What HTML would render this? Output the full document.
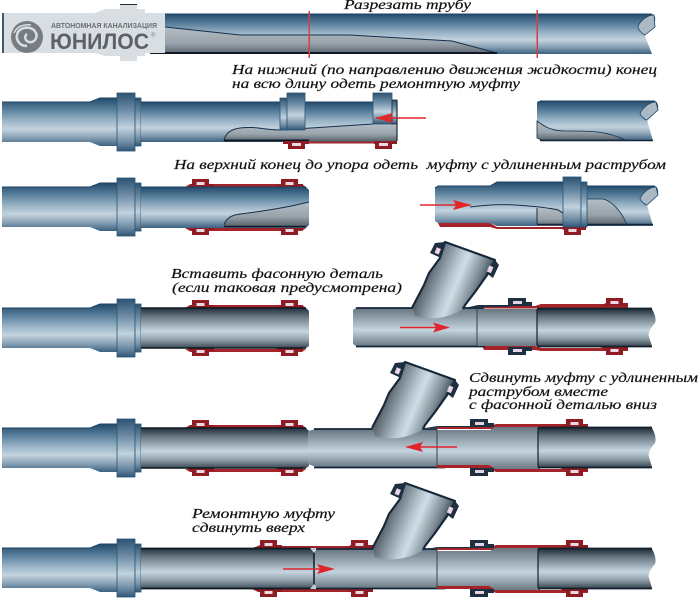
<!DOCTYPE html>
<html><head><meta charset="utf-8"><style>
html,body{margin:0;padding:0;background:#fff;width:700px;height:600px;overflow:hidden}
svg{display:block;filter:blur(.35px)}
text.t{font-family:"Liberation Serif","Noto Serif CJK SC",serif;font-style:italic;font-size:14px;fill:#111;stroke:#111;stroke-width:.2}
</style></head><body>
<svg width="700" height="600" viewBox="0 0 700 600" xmlns="http://www.w3.org/2000/svg">
<defs>
<linearGradient id="b" x1="0" y1="0" x2="0" y2="1">
<stop offset="0" stop-color="#234a69"/><stop offset=".2" stop-color="#4f7693"/><stop offset=".45" stop-color="#94afc3"/><stop offset=".65" stop-color="#c3d3df"/><stop offset=".82" stop-color="#8aa2b5"/><stop offset="1" stop-color="#3a6080"/>
</linearGradient>
<linearGradient id="g" x1="0" y1="0" x2="0" y2="1">
<stop offset="0" stop-color="#1f2e3a"/><stop offset=".22" stop-color="#6a7984"/><stop offset=".58" stop-color="#c6d6e1"/><stop offset=".8" stop-color="#8f9da7"/><stop offset="1" stop-color="#3a4a56"/>
</linearGradient>
<linearGradient id="l" x1="0" y1="0" x2="0" y2="1">
<stop offset="0" stop-color="#66757f"/><stop offset=".58" stop-color="#c4d4df"/><stop offset="1" stop-color="#6b7983"/>
</linearGradient>
<linearGradient id="f" x1="0" y1="0" x2="0" y2="1">
<stop offset="0" stop-color="#2c5373"/><stop offset=".3" stop-color="#6d8da6"/><stop offset=".6" stop-color="#c2d2de"/><stop offset=".85" stop-color="#6f8ca3"/><stop offset="1" stop-color="#2f5777"/>
</linearGradient>
<linearGradient id="d" x1="0" y1="0" x2="0" y2="1">
<stop offset="0" stop-color="#b4bdc4"/><stop offset=".6" stop-color="#99a3ab"/><stop offset="1" stop-color="#59656e"/>
</linearGradient>
<linearGradient id="br" gradientUnits="userSpaceOnUse" x1="425" y1="262" x2="488" y2="288">
<stop offset="0" stop-color="#3a444c"/><stop offset=".45" stop-color="#b9c9d4"/><stop offset=".55" stop-color="#d0dde6"/><stop offset=".8" stop-color="#7b8a94"/><stop offset="1" stop-color="#26343e"/>
</linearGradient>

<g id="leftpipe">
<path d="M2 102H90L100 98H117V146H100L90 142H2Z" fill="url(#b)"/>
<path d="M2 102H90L100 98H117" fill="none" stroke="#1c4263" stroke-width="1"/>
<rect x="117" y="93" width="18" height="58" fill="url(#f)" stroke="#2b5575" stroke-width=".8"/>
<rect x="135" y="98" width="6" height="48" fill="url(#f)" stroke="#2b5575" stroke-width=".8"/>
</g>
<g id="bump">
<path d="M-6 8L0 5V0H17V5H22V8Z" fill="#8e1c22"/>
<rect x="4.500" y="3" width="8" height="3" fill="#ecd9e6"/>
</g>
<g id="nbump">
<path d="M-2 8V0H16V4H22V8Z" fill="#1f2f42"/>
<rect x="3" y="3" width="9" height="3" fill="#e5d5e3"/>
</g>
<g id="coup">
<path d="M185 187L190 184H302L306 187Z" fill="#a5242a"/>
<use href="#bump" x="192" y="179"/>
<use href="#bump" x="281" y="179"/>
<path d="M185 228H306L302 231H190Z" fill="#a5242a"/>
<use href="#bump" transform="translate(192,235) scale(1,-1)"/>
<use href="#bump" transform="translate(281,235) scale(1,-1)"/>
</g>
<g id="tee">
<path d="M413 308L425 285L430 273L441 258L445 242L495 260L487 275L475 292L465 305L462 310C445 320 425 320 415 316Z" fill="url(#br)"/>
<path d="M412 308L424 285L429 273L440 258L445 242L495 260L487 275L475 292L465 305L463 309" fill="none" stroke="#16283a" stroke-width="2.200" stroke-linejoin="round"/>
<path d="M430 253L435 243L445 242L441 258Z" fill="#1f2f42"/>
<rect x="435.500" y="248" width="4.500" height="6" fill="#e8d5e6" transform="rotate(22 438 251)"/>
<path d="M495 260L499 265L493 278L486 273Z" fill="#1f2f42"/>
<rect x="488" y="266" width="4.500" height="6.500" fill="#e8d5e6" transform="rotate(22 490 269)"/>
</g>
<g id="rgt">
<path d="M425 428L438 426H470V428H425Z" fill="#1f2f42"/>
<path d="M437 427H488L496 424H588V429H437ZM437 464H488L496 469H588V472H496L488 468H437Z" fill="#a5242a"/>
<use href="#nbump" x="472" y="419"/>
<use href="#nbump" transform="translate(472,476) scale(1,-1)"/>
<use href="#bump" x="566" y="419"/>
<use href="#bump" transform="translate(566,476) scale(1,-1)"/>
<path d="M437 430H490L495 427H540V469H495L490 465H437Z" fill="url(#l)"/>
<path d="M437 429V466" stroke="#34424e"/>
<path d="M538 428H652Q657 437 655 443Q647 452 649 457L652 467H538Z" fill="url(#g)"/>
<path d="M538 428V467" stroke="#14202c" stroke-width="1.200"/>
<path d="M538 427.500H652M538 467.500H652" stroke="#14202c" stroke-width="1.800" fill="none"/>
</g>
</defs>

<!-- Row 1 -->
<path d="M150 14H652Q656 15 655 22L645 36L652 54H150Z" fill="url(#b)"/>
<path d="M150 14H652" stroke="#1c4263" stroke-width="1" fill="none"/>
<path d="M165 27L240 35H350L452 41L497 54H165Z" fill="url(#d)"/>
<path d="M165 27L240 35L350 35L452 41L497 53" stroke="#15304a" fill="none"/>
<path d="M150 53H497" stroke="#101a26" stroke-width="2"/>
<path d="M654 15C646 15 638 23 638 28C640 32 644 35 645 35L655 27Z" fill="#a9b9c5" stroke="#1c4263" stroke-width=".8"/>
<rect x="308.500" y="11" width="1.500" height="47" fill="#d3404a"/>
<rect x="536.500" y="10" width="1.500" height="48" fill="#d3404a"/>
<!-- logo -->
<path d="M2 13H95L105 9H120V4H137V9H145V13H165V53H145V56H137V61H120V56H105L95 53H2Z" fill="#d9dee2"/>
<rect x="2" y="13" width="2" height="40" fill="#3c5a72"/>
<rect x="120" y="4" width="17" height="1" fill="#1b2a36"/>
<circle cx="27" cy="37" r="16" fill="#777d82"/>
<path d="M27 46C18 46 15 38 18 32C22 26 33 26 36 33C38 38 34 43 29 42C25 41 24 36 27 34" fill="none" stroke="#d9dee2" stroke-width="2.500"/>
<path d="M14 33C17 26 24 24 31 25" fill="none" stroke="#d9dee2" stroke-width="1.500"/>
<text x="51" y="28" textLength="106" lengthAdjust="spacingAndGlyphs" font-family="Liberation Sans" font-weight="700" font-size="7.500" fill="#6a7074">АВТОНОМНАЯ КАНАЛИЗАЦИЯ</text>
<text x="50" y="49" textLength="99" lengthAdjust="spacingAndGlyphs" font-family="Liberation Sans" font-weight="700" font-size="22" fill="#5c6165">ЮНИЛОС</text>
<text x="151" y="37" font-family="Liberation Sans" font-size="6" fill="#7a8084">®</text>

<!-- Row 2 -->
<use href="#leftpipe"/>
<rect x="141" y="102" width="256" height="40" fill="url(#b)"/>
<path d="M141 102H397" stroke="#1c4263" fill="none"/>
<path d="M224 140C226 132 232 129 240 128C255 126 265 130 280 130L373 124H397V141H224Z" fill="url(#d)"/>
<path d="M224 140C226 132 232 129 240 128C255 126 265 130 280 130L373 124" stroke="#15304a" fill="none"/>
<path d="M224 140.500H309" stroke="#101a26" stroke-width="2"/>
<path d="M305 142.500H397" stroke="#a5242a" stroke-width="2"/>
<path d="M283 141H309V144H305V149H288V144H283Z" fill="#8e1c22"/>
<rect x="292" y="143" width="9" height="3" fill="#ecd9e6"/>
<path d="M375 149V144H374V141H397V144H392V149Z" fill="#8e1c22"/>
<rect x="379" y="143" width="9" height="3" fill="#ecd9e6"/>
<path d="M280 130V98H287V130Z" fill="url(#f)" stroke="#2b5575" stroke-width=".8"/>
<rect x="287" y="93" width="18" height="37" fill="url(#f)" stroke="#2b5575" stroke-width=".8"/>
<rect x="373" y="93" width="19" height="31" fill="url(#f)" stroke="#2b5575" stroke-width=".8"/>
<rect x="392" y="100" width="5" height="24" fill="url(#f)" stroke="#1b2a36" stroke-width=".8"/>
<path d="M397 100V141" stroke="#1b2a36" stroke-width="1.200"/>
<path d="M376 118H426" stroke="#e0252b" stroke-width="1.500"/>
<path d="M375 118L393 113L390 118L393 123Z" fill="#e0252b"/>
<!-- Row 2 right -->
<path d="M537 103Q537 101 540 101H655Q659 103 658 109L647 120L653 141H542L537 138Z" fill="url(#b)"/>
<path d="M537 121C545 127 552 131 565 131C585 131 605 130 625 140H542L537 138Z" fill="url(#d)" stroke="#15304a" stroke-width=".8"/>
<path d="M540 140.500H653" stroke="#14263a" stroke-width="1.500"/>
<path d="M540 101H655" stroke="#1c4263" fill="none"/>
<path d="M656 102C648 102 641 110 640 114C642 118 646 120 647 120L658 110Z" fill="#a9b9c5" stroke="#1c4263" stroke-width=".8"/>

<!-- Row 3 left -->
<use href="#coup"/>
<use href="#leftpipe" y="85"/>
<path d="M141 187H306L309 190V225L306 228H141Z" fill="url(#b)"/>
<path d="M141 187H306" stroke="#1c4263" fill="none"/>
<path d="M224 225C226 218 232 215 240 214C265 211 285 208 309 202V225L306 226H224Z" fill="url(#d)"/>
<path d="M224 225C226 218 232 215 240 214C265 211 285 208 309 202" stroke="#15304a" fill="none"/>
<path d="M224 226.500H306" stroke="#101a26" stroke-width="1.500"/>

<!-- Row 3 right -->
<path d="M438 223H490L497 227H582V229H497L490 227H440Z" fill="#a5242a"/>
<use href="#bump" transform="translate(564,235) scale(1,-1)"/>
<path d="M435 188L438 186H490L497 182H563V226H497L490 223H438L435 221Z" fill="url(#b)"/>
<path d="M587 186H655Q659 188 658 194L647 205L653 226H587Z" fill="url(#b)"/>
<path d="M587 199H603C612 201 622 212 627 225H587Z" fill="url(#d)" stroke="#15304a" stroke-width=".8"/>
<path d="M537 208H558L585 226H537Z" fill="url(#d)"/>
<path d="M470 207C485 205 500 204 515 205C530 206 550 208 558 210L585 227" stroke="#15304a" fill="none"/>
<path d="M537 208V224" stroke="#15304a"/>
<path d="M537 224.500H653" stroke="#14263a" stroke-width="1.500"/>
<path d="M435 188L438 186H490L497 182H563M587 186H655" stroke="#1c4263" fill="none"/>
<path d="M656 187C648 187 641 195 640 199C642 203 646 205 647 205L658 195Z" fill="#a9b9c5" stroke="#1c4263" stroke-width=".8"/>
<rect x="563" y="177" width="18" height="50" fill="url(#f)" stroke="#2b5575" stroke-width=".8"/>
<rect x="581" y="182" width="6" height="45" fill="url(#f)" stroke="#2b5575" stroke-width=".8"/>
<path d="M420 205H470" stroke="#e0252b" stroke-width="1.500"/>
<path d="M472 205L453 200L456 205L453 210Z" fill="#e0252b"/>

<!-- Row 4 left -->
<use href="#coup" y="121"/>
<use href="#leftpipe" y="206"/>
<path d="M141 308H306L309 311V346L306 348H141Z" fill="url(#g)"/>
<path d="M141 308H306M141 348H306" stroke="#0e1a24" stroke-width="1.500" fill="none"/>

<!-- Row 4 right -->
<path d="M482 306H535L541 304H628V308H541L535 308.500H482ZM482 346H535L541 348H628V351H541L535 350H484Z" fill="#a5242a"/>
<use href="#nbump" x="510" y="298"/>
<use href="#nbump" transform="translate(510,355) scale(1,-1)"/>
<use href="#bump" x="606" y="298"/>
<use href="#bump" transform="translate(606,355) scale(1,-1)"/>
<path d="M465 308L478 305H510V307H484V310H465Z" fill="#1f2f42"/>
<path d="M353 310L356 308H477V346H356L353 344Z" fill="url(#l)"/>
<path d="M356 308H413M462 308H477M356 346.500H485" stroke="#14263a" stroke-width="1.800" fill="none"/>
<use href="#tee"/>
<path d="M477 309H537V346H477Z" fill="url(#l)"/>
<path d="M477 309V346" stroke="#34424e"/>
<path d="M537 309H652Q657 318 655 323Q647 332 649 337L652 346H537Z" fill="url(#g)"/>
<path d="M537 309V346" stroke="#14202c" stroke-width="1.200"/>
<path d="M537 308.500H652M537 346.500H652" stroke="#14202c" stroke-width="1.800" fill="none"/>
<path d="M400 327.500H440" stroke="#e0252b" stroke-width="1.500"/>
<path d="M450 327.500L433 322.500L436 327.500L433 332.500Z" fill="#e0252b"/>

<!-- Row 5 left -->
<use href="#coup" y="241"/>
<use href="#leftpipe" y="326"/>
<path d="M141 428H306L309 431V466L306 468H141Z" fill="url(#g)"/>
<path d="M141 428H306M141 468H306" stroke="#0e1a24" stroke-width="1.500" fill="none"/>

<!-- Row 5 right -->
<path d="M308 431L316 429H437V467H316L308 464Z" fill="url(#l)"/>
<path d="M314 429H373M422 429H437M314 467.500H445" stroke="#14263a" stroke-width="1.800" fill="none"/>
<use href="#tee" x="-40" y="120"/>
<use href="#rgt"/>
<path d="M407 447H457" stroke="#e0252b" stroke-width="1.500"/>
<path d="M405 447L423 442L420 447L423 452Z" fill="#e0252b"/>

<!-- Row 6 left -->
<use href="#leftpipe" y="446"/>
<path d="M252 548L258 546H372V549ZM252 589H372V592H258Z" fill="#a5242a"/>
<use href="#bump" x="260" y="540"/>
<use href="#bump" transform="translate(260,597) scale(1,-1)"/>
<use href="#bump" x="351" y="540"/>
<use href="#bump" transform="translate(351,597) scale(1,-1)"/>
<path d="M141 548H314V589H141Z" fill="url(#g)"/>
<path d="M141 548.500H314M141 588.500H314" stroke="#0e1a24" stroke-width="1.800" fill="none"/>

<!-- Row 6 right -->
<path d="M314 549H437V588H314Z" fill="url(#l)"/>
<path d="M314 549V588" stroke="#101a24" stroke-width="1.500"/>
<path d="M310 548L318 548L314 553ZM310 589L318 589L314 584Z" fill="#c4ccd2"/>
<path d="M316 549H373M422 549H437M316 588.500H445" stroke="#14263a" stroke-width="1.800" fill="none"/>
<use href="#tee" x="-40" y="241"/>
<use href="#rgt" y="121"/>
<path d="M283 569H325" stroke="#e0252b" stroke-width="1.500"/>
<path d="M335 569L317 564L320 569L317 574Z" fill="#e0252b"/>

<!-- Labels -->
<text class="t" x="344" y="9" textLength="127" lengthAdjust="spacingAndGlyphs">Разрезать трубу</text>
<text class="t" x="232" y="74" textLength="425" lengthAdjust="spacingAndGlyphs">На нижний (по направлению движения жидкости) конец</text>
<text class="t" x="232" y="88" textLength="288" lengthAdjust="spacingAndGlyphs">на всю длину одеть ремонтную муфту</text>
<text class="t" x="174" y="169" textLength="492" lengthAdjust="spacingAndGlyphs" xml:space="preserve">На верхний конец до упора одеть  муфту с удлиненным раструбом</text>
<text class="t" x="171" y="278" textLength="212" lengthAdjust="spacingAndGlyphs">Вставить фасонную деталь</text>
<text class="t" x="172" y="292" textLength="230" lengthAdjust="spacingAndGlyphs">(если таковая предусмотрена)</text>
<text class="t" x="469" y="382" textLength="229" lengthAdjust="spacingAndGlyphs">Сдвинуть муфту с удлиненным</text>
<text class="t" x="469" y="396" textLength="139" lengthAdjust="spacingAndGlyphs">раструбом вместе</text>
<text class="t" x="469" y="409" textLength="188" lengthAdjust="spacingAndGlyphs">с фасонной деталью вниз</text>
<text class="t" x="192" y="518" textLength="143" lengthAdjust="spacingAndGlyphs">Ремонтную муфту</text>
<text class="t" x="192" y="532" textLength="113" lengthAdjust="spacingAndGlyphs">сдвинуть вверх</text>
</svg>
</body></html>
